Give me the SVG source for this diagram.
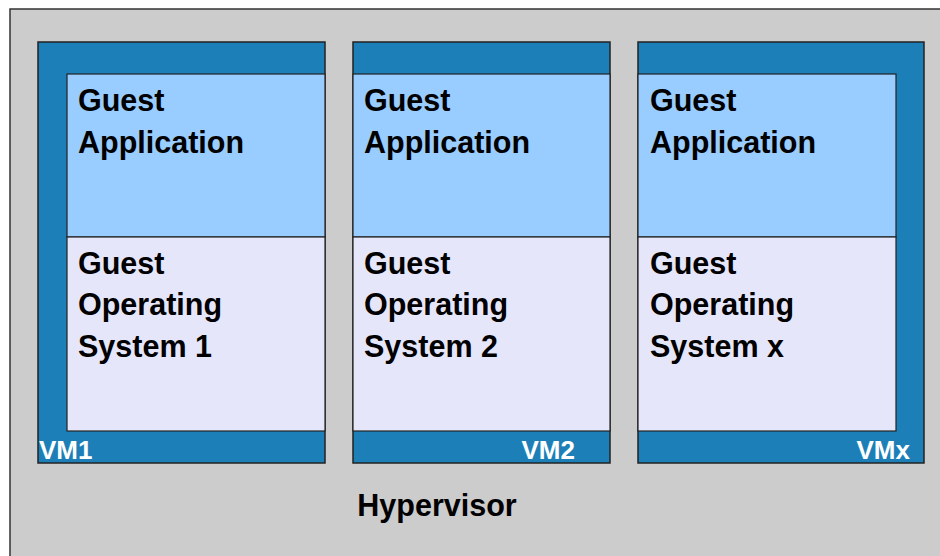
<svg xmlns="http://www.w3.org/2000/svg" width="940" height="556" viewBox="0 0 940 556">
  <style>
    .host { fill: #cccccc; stroke: #333333; stroke-width: 1.5; }
    .vm { fill: #1d7fb7; stroke: #222222; stroke-width: 1.5; }
    .app { fill: #99ccff; stroke: #222222; stroke-width: 1.2; }
    .os { fill: #e6e6fa; stroke: #222222; stroke-width: 1.2; }
    .t { font-family: "Liberation Sans", Arial, Helvetica, sans-serif; font-weight: bold; font-size: 30.5px; fill: #000000; }
    .vmlabel { font-family: "Liberation Sans", Arial, Helvetica, sans-serif; font-weight: bold; font-size: 26px; fill: #ffffff; }
  </style>

  <rect x="0" y="0" width="940" height="556" fill="#ffffff"/>

  <!-- hypervisor layer -->
  <g id="hypervisor">
    <rect class="host" x="10" y="9" width="940" height="560"/>
    <text class="t" x="437" y="516" text-anchor="middle" font-size="30">Hypervisor</text>
  </g>

  <!-- virtual machine 1 -->
  <g id="vm1">
    <rect class="vm" x="38" y="42" width="287" height="421"/>
    <rect class="app" x="67" y="74" width="258" height="163"/>
    <rect class="os" x="67" y="237" width="258" height="194"/>
    <text class="t" x="78" y="111">Guest</text>
    <text class="t" x="78" y="152.5">Application</text>
    <text class="t" x="78" y="274">Guest</text>
    <text class="t" x="78" y="315">Operating</text>
    <text class="t" x="78" y="356.5">System 1</text>
    <text class="vmlabel" x="39" y="459">VM1</text>
  </g>

  <!-- virtual machine 2 -->
  <g id="vm2">
    <rect class="vm" x="353" y="42" width="257" height="421"/>
    <rect class="app" x="353" y="74" width="257" height="163"/>
    <rect class="os" x="353" y="237" width="257" height="194"/>
    <text class="t" x="364" y="111">Guest</text>
    <text class="t" x="364" y="152.5">Application</text>
    <text class="t" x="364" y="274">Guest</text>
    <text class="t" x="364" y="315">Operating</text>
    <text class="t" x="364" y="356.5">System 2</text>
    <text class="vmlabel" x="575" y="459" text-anchor="end">VM2</text>
  </g>

  <!-- virtual machine x -->
  <g id="vmx">
    <rect class="vm" x="638" y="42" width="286" height="421"/>
    <rect class="app" x="638" y="74" width="258" height="163"/>
    <rect class="os" x="638" y="237" width="258" height="194"/>
    <text class="t" x="650" y="111">Guest</text>
    <text class="t" x="650" y="152.5">Application</text>
    <text class="t" x="650" y="274">Guest</text>
    <text class="t" x="650" y="315">Operating</text>
    <text class="t" x="650" y="356.5">System x</text>
    <text class="vmlabel" x="910" y="459" text-anchor="end">VMx</text>
  </g>

  <g id="connectors"/>
</svg>
